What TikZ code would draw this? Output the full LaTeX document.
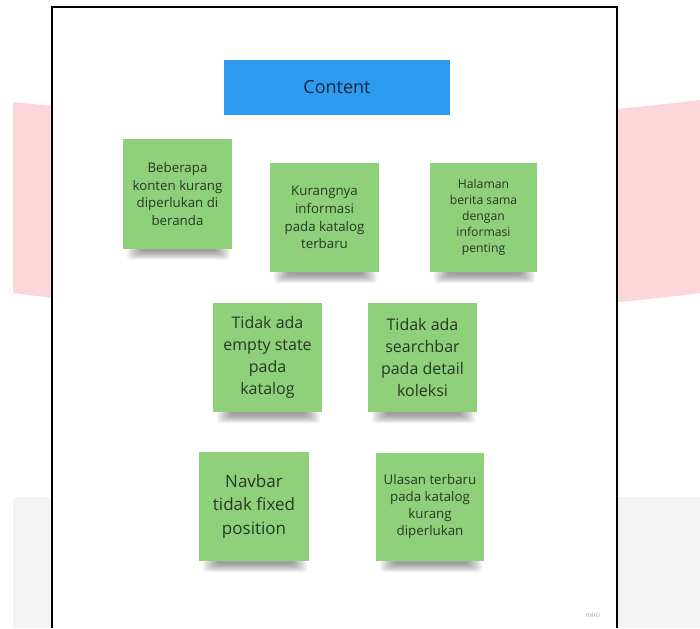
\documentclass[tikz,border=0pt]{standalone}
\usepackage{fontspec}
\setmainfont{Open Sans}
\definecolor{pinkband}{RGB}{253,214,218}
\definecolor{grayband}{RGB}{244,244,244}
\definecolor{contentblue}{RGB}{45,155,240}
\definecolor{contenttext}{RGB}{25,40,60}
\definecolor{notegreen}{RGB}{143,208,122}
\definecolor{notetext}{RGB}{40,55,38}
\pgfdeclarelayer{bg}
\pgfdeclarelayer{shd}
\pgfsetlayers{bg,shd,main}
\newcommand{\noteshadow}[1]{%
  \foreach \i in {0,...,9}{%
    \fill[black,opacity=0.045,rounded corners=3pt]
      ([xshift=4pt+1.6*\i pt,yshift=1pt]#1.south west) rectangle ([xshift=-2pt-1.6*\i pt,yshift=-11pt+0.9*\i pt]#1.south east);
  }%
}
\begin{document}
\begin{tikzpicture}[x=1pt,y=-1pt,
  note/.style={fill=notegreen, minimum width=109pt, minimum height=109pt, inner sep=0pt, align=center, text=notetext},
  small/.style={font=\fontsize{13.3}{17.8}\selectfont},
  mid/.style={font=\fontsize{16}{22}\selectfont},
  big/.style={font=\fontsize{17}{23.5}\selectfont}]
\useasboundingbox (0,0) rectangle (700,628);
\begin{pgfonlayer}{bg}
\fill[white] (0,0) rectangle (700,628);
\fill[pinkband] (13,102) .. controls (200,122) and (480,128) .. (700,100) -- (700,293) .. controls (480,322) and (200,318) .. (13,293) -- cycle;
\fill[grayband] (13,497) rectangle (700,628);
\fill[white] (52,7) rectangle (617,628);
\draw[line width=1.6pt] (52,628) -- (52,7) -- (617,7) -- (617,628);
\end{pgfonlayer}

\node[fill=contentblue, minimum width=226pt, minimum height=55pt, inner sep=0pt, font=\fontsize{18}{22}\selectfont, text=contenttext] (content) at (337,87.5) {Content};

\node[note, small] (n1) at (177.5,194) {Beberapa\\konten kurang\\diperlukan di\\beranda};
\node[note, small] (n2) at (324.5,217.5) {Kurangnya\\informasi\\pada katalog\\terbaru};
\node[note, minimum width=107pt, font=\fontsize{12.2}{16}\selectfont] (n3) at (483.5,217.5) {Halaman\\berita sama\\dengan\\informasi\\penting};
\node[note, mid] (n4) at (267.5,357.5) {Tidak ada\\empty state\\pada\\katalog};
\node[note, mid] (n5) at (422.5,357.5) {Tidak ada\\searchbar\\pada detail\\koleksi};
\node[note, big, minimum width=110pt] (n6) at (254,506.5) {Navbar\\tidak fixed\\position};
\node[note, minimum width=108pt, minimum height=108pt, font=\fontsize{13.3}{17}\selectfont] (n7) at (430,507) {Ulasan terbaru\\pada katalog\\kurang\\diperlukan};

\begin{pgfonlayer}{shd}
\noteshadow{n1}
\noteshadow{n2}
\noteshadow{n3}
\noteshadow{n4}
\noteshadow{n5}
\noteshadow{n6}
\noteshadow{n7}
\end{pgfonlayer}

\node[text=black!35, font=\fontsize{6.5}{8}\selectfont] (miro) at (593,615) {miro};
\end{tikzpicture}
\end{document}
